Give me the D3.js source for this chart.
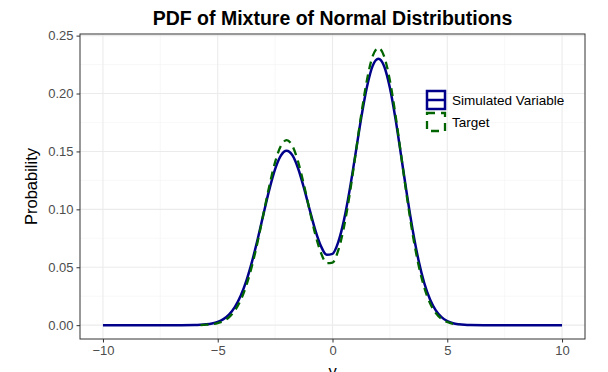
<!DOCTYPE html>
<html>
<head>
<meta charset="utf-8">
<script src="https://cdn.jsdelivr.net/npm/d3@7"></script>
<style>
html,body{margin:0;padding:0;background:#fff;}
svg{display:block;font-family:"Liberation Sans",Arial,sans-serif;}
</style>
</head>
<body>
<svg id="chart" width="608" height="372"></svg>
<script>
// Simulated variable density
const simX = [-10,-7,-6,-5.75,-5.5,-5.25,-5,-4.75,-4.5,-4.25,-4,-3.75,-3.5,-3.25,-3,-2.75,-2.5,-2.25,-2,-1.75,-1.5,-1.25,-1,-0.75,-0.5,-0.25,0,0.25,0.5,0.75,1,1.25,1.5,1.75,2,2.25,2.5,2.75,3,3.25,3.5,3.75,4,4.25,4.5,4.75,5,5.25,5.5,5.75,6,7,10];
const simY = [0,0,0.0001,0.0003,0.0007,0.0014,0.0027,0.0052,0.0093,0.0158,0.0254,0.0385,0.0553,0.0751,0.0965,0.1172,0.1347,0.1464,0.1506,0.1468,0.1355,0.1189,0.1001,0.0821,0.0681,0.0607,0.0616,0.0717,0.0907,0.1170,0.1476,0.1789,0.2057,0.2239,0.2301,0.2236,0.2050,0.1775,0.1449,0.1118,0.0814,0.0559,0.0362,0.0222,0.0128,0.0070,0.0036,0.0017,0.0008,0.0003,0.0001,0,0];
// Target density
const tgtX = [-5.75,-5.5,-5.25,-5,-4.75,-4.5,-4.25,-4,-3.75,-3.5,-3.25,-3,-2.75,-2.5,-2.25,-2,-1.75,-1.5,-1.25,-1,-0.75,-0.5,-0.25,0,0.25,0.5,0.75,1,1.25,1.5,1.75,2,2.25,2.5,2.75,3,3.25,3.5,3.75,4,4.25,4.5,4.75,5,5.25,5.5];
const tgtY = [0.0001,0.0004,0.0008,0.0018,0.0036,0.0070,0.0127,0.0216,0.0345,0.0518,0.0730,0.0968,0.1204,0.1408,0.1547,0.1597,0.1549,0.1413,0.1216,0.0995,0.0785,0.0623,0.0535,0.0540,0.0645,0.0847,0.1132,0.1470,0.1815,0.2116,0.2322,0.2394,0.2320,0.2113,0.1807,0.1452,0.1096,0.0777,0.0518,0.0324,0.0190,0.0105,0.0055,0.0027,0.0012,0.0005];
const xTicks = [-10,-5,0,5,10];
const xMinor = [-7.5,-2.5,2.5,7.5];
const yTicks = [0,0.05,0.10,0.15,0.20,0.25];
const yMinor = [0.025,0.075,0.125,0.175,0.225];
const legendLabels = ["Simulated Variable","Target"];

const svg = d3.select("#chart");
const L = 80, R = 585, T = 34, B = 339;
const x = d3.scaleLinear().domain([-11,11]).range([L,R]);
const y = d3.scaleLinear().domain([-0.01195,0.2514]).range([B,T]);

// grid
const g = svg.append("g");
g.selectAll(".vmin").data(xMinor).enter().append("line")
  .attr("x1",d=>x(d)).attr("x2",d=>x(d)).attr("y1",T).attr("y2",B)
  .attr("stroke","#F4F4F4").attr("stroke-width",0.6);
g.selectAll(".hmin").data(yMinor).enter().append("line")
  .attr("y1",d=>y(d)).attr("y2",d=>y(d)).attr("x1",L).attr("x2",R)
  .attr("stroke","#F4F4F4").attr("stroke-width",0.6);
g.selectAll(".vmaj").data(xTicks).enter().append("line")
  .attr("x1",d=>x(d)).attr("x2",d=>x(d)).attr("y1",T).attr("y2",B)
  .attr("stroke","#EBEBEB").attr("stroke-width",1.1);
g.selectAll(".hmaj").data(yTicks).enter().append("line")
  .attr("y1",d=>y(d)).attr("y2",d=>y(d)).attr("x1",L).attr("x2",R)
  .attr("stroke","#EBEBEB").attr("stroke-width",1.1);

// curves
const line = d3.line().x((d,i)=>x(d[0])).y(d=>y(d[1])).curve(d3.curveMonotoneX);
svg.append("path").datum(simX.map((v,i)=>[v,simY[i]]))
  .attr("d",line).attr("fill","none").attr("stroke","#00008B").attr("stroke-width",2.5)
  .attr("stroke-linejoin","round");
svg.append("path").datum(tgtX.map((v,i)=>[v,tgtY[i]]))
  .attr("d",line).attr("fill","none").attr("stroke","#006400").attr("stroke-width",2.3)
  .attr("stroke-dasharray","8,5.5");

// panel border
svg.append("rect").attr("x",L).attr("y",T).attr("width",R-L).attr("height",B-T)
  .attr("fill","none").attr("stroke","#333333").attr("stroke-width",1);

// axes
const xAxis = svg.append("g").attr("transform",`translate(0,${B})`)
  .call(d3.axisBottom(x).tickValues(xTicks).tickSize(3.5).tickPadding(3).tickFormat(d3.format("d")));
const yAxis = svg.append("g").attr("transform",`translate(${L},0)`)
  .call(d3.axisLeft(y).tickValues(yTicks).tickSize(3.5).tickPadding(3).tickFormat(d3.format(".2f")));
[xAxis,yAxis].forEach(a=>{
  a.select(".domain").remove();
  a.selectAll(".tick line").attr("stroke","#333333").attr("stroke-width",1);
  a.selectAll(".tick text").attr("fill","#4D4D4D").style("font-size","13px")
   .style("font-family","'Liberation Sans',Arial,sans-serif");
});

// titles
svg.append("text").attr("x",(L+R)/2).attr("y",25).attr("text-anchor","middle")
  .style("font-size","19.5px").style("font-weight","bold").attr("fill","#000")
  .text("PDF of Mixture of Normal Distributions");
svg.append("text").attr("transform",`translate(37,${(T+B)/2}) rotate(-90)`)
  .attr("text-anchor","middle").style("font-size","16.5px").attr("fill","#000").text("Probability");
svg.append("text").attr("x",(L+R)/2).attr("y",377).attr("text-anchor","middle")
  .style("font-size","16.5px").attr("fill","#000").text("y");

// legend
const lg = svg.append("g");
const kx = 427, kw = 18, kh = 18;
const keyY = [91,113];
lg.append("rect").attr("x",kx).attr("y",keyY[0]).attr("width",kw).attr("height",kh)
  .attr("fill","#fff").attr("stroke","#00008B").attr("stroke-width",2.5);
lg.append("line").attr("x1",kx).attr("x2",kx+kw).attr("y1",keyY[0]+kh/2).attr("y2",keyY[0]+kh/2)
  .attr("stroke","#00008B").attr("stroke-width",2.5);
lg.append("rect").attr("x",kx).attr("y",keyY[1]).attr("width",kw).attr("height",kh)
  .attr("fill","#fff").attr("stroke","#006400").attr("stroke-width",2.3).attr("stroke-dasharray","8,6");
lg.selectAll(".lt").data(legendLabels).enter().append("text")
  .attr("x",452).attr("y",(d,i)=>keyY[i]+kh/2+5)
  .style("font-size","13.5px").attr("fill","#000").text(d=>d);
</script>
</body>
</html>
